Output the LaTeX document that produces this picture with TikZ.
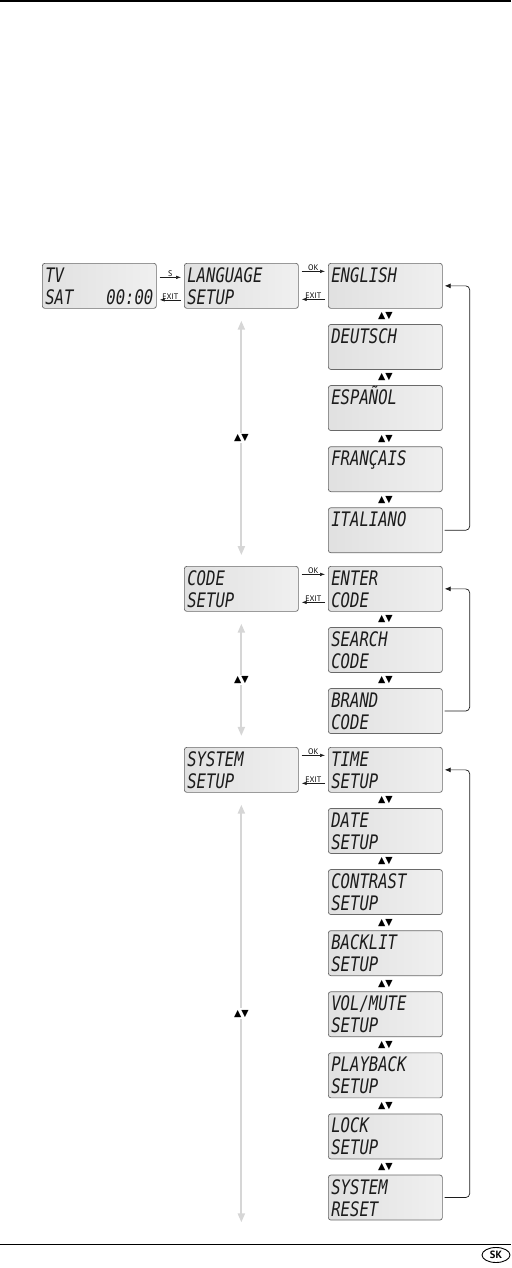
\documentclass[tikz,border=0pt]{standalone}
\usepackage{fontspec}
\usetikzlibrary{arrows.meta,positioning,calc,shapes.geometric}
\newfontfamily\lcdfont{DejaVu Sans Mono}[FakeStretch=0.78]
\newfontfamily\keyfont{PT Sans}
\newfontfamily\symfont{DejaVu Sans}
\definecolor{lcdEdge}{RGB}{105,105,105}
\definecolor{lcdInk}{RGB}{28,28,28}
\definecolor{navGray}{RGB}{214,214,214}
\newcommand{\lcd}[2]{\rule{0pt}{19pt}#1\\\rule[-4pt]{0pt}{4pt}#2}
\tikzset{
  lcdbox/.style={rounded corners=2.5pt, draw=lcdEdge, line width=0.7pt,
                 left color=gray!24, middle color=white, right color=gray!12,
                 text width=108pt, align=left, inner xsep=3pt, inner ysep=0pt,
                 minimum height=45pt, text=lcdInk,
                 font={\lcdfont\itshape\fontsize{20}{22}\selectfont}},
  keyarrow/.style={-{Latex[length=5pt,width=3.5pt]}, line width=0.5pt, draw=lcdInk},
  keylabel/.style={above, inner sep=0.4pt, font={\keyfont\fontsize{8}{8}\selectfont}},
  scrollarrow/.style={{Triangle[length=9pt,width=7pt]}-{Triangle[length=9pt,width=7pt]},
                      line width=2pt, draw=navGray},
  scrolllabel/.style={fill=white, inner sep=1.5pt, font={\symfont\fontsize{9.5}{10}\selectfont}},
  stepmark/.style={inner sep=0pt, font={\symfont\fontsize{9.5}{10}\selectfont}},
  loopback/.style={-{Latex[length=6pt,width=5pt]}, line width=0.7pt, draw=lcdInk,
                   rounded corners=4pt}
}

\begin{document}
\begin{tikzpicture}[x=1pt, y=-1pt, node distance=15.4pt]
\useasboundingbox (0,0) rectangle (511,1268);
% page rules and language tag
\fill[black] (0,0) rectangle (511,2.4);
\draw[line width=0.8pt] (0,1244) -- (511,1244);
\node[ellipse, draw, line width=0.9pt, minimum width=28pt, minimum height=15pt, inner sep=0pt,
      font={\keyfont\bfseries\fontsize{10.5}{10.5}\selectfont}] (tag) at (496,1255) {SK};

% main column
\node[lcdbox, anchor=north west] (tv) at (42,263) {\lcd{TV}{SAT\hfill 00:00}};
\node[lcdbox, anchor=north west] (language) at (184,263) {\lcd{LANGUAGE}{SETUP}};
\node[lcdbox, anchor=north west] (code) at (184,566) {\lcd{CODE}{SETUP}};
\node[lcdbox, anchor=north west] (system) at (184,747) {\lcd{SYSTEM}{SETUP}};

% language menu
\node[lcdbox, anchor=north west] (english) at (328,263) {\lcd{ENGLISH}{}};
\node[lcdbox, below=of english] (deutsch) {\lcd{DEUTSCH}{}};
\node[lcdbox, below=of deutsch] (espanol) {\lcd{ESPAÑOL}{}};
\node[lcdbox, below=of espanol] (francais) {\lcd{FRANÇAIS}{}};
\node[lcdbox, below=of francais] (italiano) {\lcd{ITALIANO}{}};

% code menu
\node[lcdbox, anchor=north west] (enter) at (328,566) {\lcd{ENTER}{CODE}};
\node[lcdbox, below=of enter] (search) {\lcd{SEARCH}{CODE}};
\node[lcdbox, below=of search] (brand) {\lcd{BRAND}{CODE}};

% system menu
\node[lcdbox, anchor=north west] (time) at (328,747) {\lcd{TIME}{SETUP}};
\node[lcdbox, below=of time] (date) {\lcd{DATE}{SETUP}};
\node[lcdbox, below=of date] (contrast) {\lcd{CONTRAST}{SETUP}};
\node[lcdbox, below=of contrast] (backlit) {\lcd{BACKLIT}{SETUP}};
\node[lcdbox, below=of backlit] (volmute) {\lcd{VOL/MUTE}{SETUP}};
\node[lcdbox, below=of volmute] (playback) {\lcd{PLAYBACK}{SETUP}};
\node[lcdbox, below=of playback] (lock) {\lcd{LOCK}{SETUP}};
\node[lcdbox, below=of lock] (reset) {\lcd{SYSTEM}{RESET}};

\foreach \upper/\lower in {english/deutsch, deutsch/espanol, espanol/francais, francais/italiano,
    enter/search, search/brand, time/date, date/contrast, contrast/backlit,
    backlit/volmute, volmute/playback, playback/lock, lock/reset}
  \node[stepmark] at ($(\upper.south)!0.5!(\lower.north)$) {▲▼};

% key arrows
\draw[keyarrow] ([shift={(3pt,8.5pt)}]tv.east) -- ([shift={(-3pt,8.5pt)}]language.west)
  node[keylabel, midway] {S};
\draw[keyarrow] ([shift={(-3pt,-14pt)}]language.west) -- ([shift={(3pt,-14pt)}]tv.east)
  node[keylabel, midway] {EXIT};
\draw[keyarrow] ([shift={(3pt,14.5pt)}]language.east) -- ([shift={(-3pt,14.5pt)}]english.west)
  node[keylabel, midway] {OK};
\draw[keyarrow] ([shift={(-3pt,-13.5pt)}]english.west) -- ([shift={(3pt,-13.5pt)}]language.east)
  node[keylabel, midway] {EXIT};
\draw[keyarrow] ([shift={(3pt,14.5pt)}]code.east) -- ([shift={(-3pt,14.5pt)}]enter.west)
  node[keylabel, midway] {OK};
\draw[keyarrow] ([shift={(-3pt,-13.5pt)}]enter.west) -- ([shift={(3pt,-13.5pt)}]code.east)
  node[keylabel, midway] {EXIT};
\draw[keyarrow] ([shift={(3pt,14.5pt)}]system.east) -- ([shift={(-3pt,14.5pt)}]time.west)
  node[keylabel, midway] {OK};
\draw[keyarrow] ([shift={(-3pt,-13.5pt)}]time.west) -- ([shift={(3pt,-13.5pt)}]system.east)
  node[keylabel, midway] {EXIT};

% scrolling between setup menus
\draw[scrollarrow] ([yshift=-12pt]language.south) -- ([yshift=-2pt]language.south |- italiano.south)
  node[scrolllabel, midway] {▲▼};
\draw[scrollarrow] ([yshift=-12pt]code.south) -- ([yshift=-2pt]code.south |- brand.south)
  node[scrolllabel, midway] {▲▼};
\draw[scrollarrow] ([yshift=-12pt]system.south) -- ([yshift=-2pt]system.south |- reset.south)
  node[scrolllabel, midway] {▲▼};

% wrap-around
\draw[loopback] ([xshift=2pt]italiano.east) -| ([xshift=27pt]english.east) -- ([xshift=2pt]english.east);
\draw[loopback] ([xshift=2pt]brand.east) -| ([xshift=27pt]enter.east) -- ([xshift=2pt]enter.east);
\draw[loopback] ([xshift=2pt]reset.east) -| ([xshift=27pt]time.east) -- ([xshift=2pt]time.east);
\end{tikzpicture}
\end{document}
